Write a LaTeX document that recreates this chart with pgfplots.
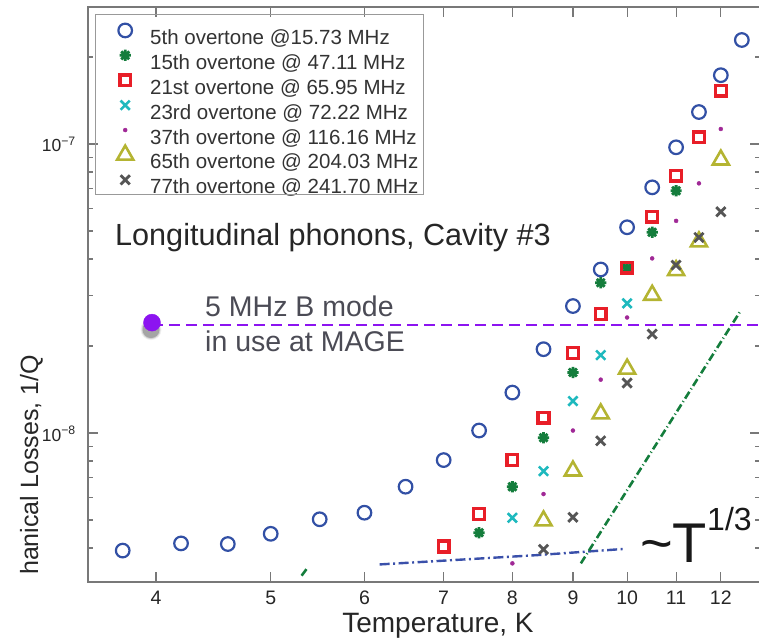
\documentclass[border=0pt]{standalone}
\usepackage{fontspec}
\setmainfont{Liberation Sans}
\usepackage{pgfplots}
\pgfplotsset{compat=1.18}
\definecolor{c5}{RGB}{50,80,165}
\definecolor{c15}{RGB}{20,125,60}
\definecolor{c21}{RGB}{232,30,40}
\definecolor{c23}{RGB}{30,185,190}
\definecolor{c37}{RGB}{160,40,150}
\definecolor{c65}{RGB}{180,180,50}
\definecolor{c77}{RGB}{85,85,85}
\definecolor{cviol}{RGB}{140,20,240}
\definecolor{cann}{RGB}{75,75,85}
\definecolor{caxis}{RGB}{120,120,120}
\makeatletter
\pgfdeclareplotmark{ast8}{%
  \pgfpathmoveto{\pgfqpoint{-\pgfplotmarksize}{0pt}}\pgfpathlineto{\pgfqpoint{\pgfplotmarksize}{0pt}}%
  \pgfpathmoveto{\pgfqpoint{0pt}{-\pgfplotmarksize}}\pgfpathlineto{\pgfqpoint{0pt}{\pgfplotmarksize}}%
  \pgfpathmoveto{\pgfqpoint{-.7071\pgfplotmarksize}{-.7071\pgfplotmarksize}}\pgfpathlineto{\pgfqpoint{.7071\pgfplotmarksize}{.7071\pgfplotmarksize}}%
  \pgfpathmoveto{\pgfqpoint{-.7071\pgfplotmarksize}{.7071\pgfplotmarksize}}\pgfpathlineto{\pgfqpoint{.7071\pgfplotmarksize}{-.7071\pgfplotmarksize}}%
  \pgfusepathqstroke}
\makeatother
\begin{document}
\begin{tikzpicture}
\useasboundingbox (-88pt,-55pt) rectangle (671pt,582pt);
\clip (-88pt,-55pt) rectangle (671pt,582pt);
\begin{axis}[
  at={(0pt,0pt)}, anchor=south west,
  scale only axis, width=672pt, height=575pt,
  xmode=log, ymode=log,
  xmin=3.505, xmax=12.95, ymin=3.051e-9, ymax=2.978e-7,
  xtick={4,5,6,7,8,9,10,11,12},
  xticklabels={4,5,6,7,8,9,10,11,12},
  minor xtick={},
  ytick={1e-8,1e-7},
  yticklabels={10\textsuperscript{−8},10\textsuperscript{−7}},
  minor ytick={4e-9,5e-9,6e-9,7e-9,8e-9,9e-9,2e-8,3e-8,4e-8,5e-8,6e-8,7e-8,8e-8,9e-8,2e-7},
  tick align=inside, xtick pos=both, ytick pos=both,
  major tick length=10pt, minor tick length=5pt,
  axis line style={draw=caxis, line width=1.2pt},
  every tick/.style={draw=caxis, line width=1.2pt},
  xticklabel style={font=\fontsize{19.5}{20}\selectfont, anchor=base, inner sep=0pt, yshift=-22pt, text=black!85},
  yticklabel style={font=\fontsize{17.5}{18}\selectfont, anchor=base east, inner sep=0pt, xshift=-12pt, yshift=-8pt, text=black!85},
  legend style={at={(0.0104,0.9878)}, anchor=north west, draw=none, fill=none,
    inner xsep=4pt, inner ysep=9pt, column sep=16pt, row sep=-2.0pt,
    font=\fontsize{20.5}{22}\selectfont, text=black!80,
    nodes={inner sep=0pt, text height=19.3pt, text depth=5.7pt}},
  legend cell align=left,
  legend image code/.code={\path[draw=none,fill=none] (-26pt,0pt) (9pt,14.4pt); \draw[#1, overlay] plot coordinates {(0pt,7.2pt)};},
]
\addplot[only marks, mark=o, c5, mark options={line width=2.2pt, mark size=6.8pt}] coordinates {
(3.75,3.92e-9)(4.2,4.15e-9)(4.6,4.13e-9)(5,4.48e-9)(5.5,5.03e-9)(6,5.30e-9)(6.5,6.52e-9)(7,8.06e-9)(7.5,1.02e-8)(8,1.38e-8)(8.5,1.95e-8)(9,2.75e-8)(9.5,3.68e-8)(10,5.15e-8)(10.5,7.08e-8)(11,9.74e-8)(11.5,1.29e-7)(12,1.73e-7)(12.5,2.29e-7)};
\addlegendentry{5th overtone @15.73 MHz}
\addplot[only marks, mark=ast8, c15, mark options={line width=2.8pt, mark size=5.6pt}] coordinates {
(7.5,4.52e-9)(8,6.52e-9)(8.5,9.63e-9)(9,1.62e-8)(9.5,3.31e-8)(10,3.72e-8)(10.5,4.95e-8)(11,6.89e-8)};
\addlegendentry{15th overtone @ 47.11 MHz}
\addplot[only marks, mark=square, c21, mark options={line width=3.4pt, mark size=5.4pt}] coordinates {
(7,4.05e-9)(7.5,5.25e-9)(8,8.06e-9)(8.5,1.13e-8)(9,1.89e-8)(9.5,2.58e-8)(10,3.73e-8)(10.5,5.60e-8)(11,7.77e-8)(11.5,1.055e-7)(12,1.53e-7)};
\addlegendentry{21st overtone @ 65.95 MHz}
\addplot[only marks, mark=x, c23, mark options={line width=2.6pt, mark size=6.5pt}] coordinates {
(8,5.09e-9)(8.5,7.38e-9)(9,1.29e-8)(9.5,1.86e-8)(10,2.81e-8)};
\addlegendentry{23rd overtone @ 72.22 MHz}
\addplot[only marks, mark=*, c37, mark options={mark size=2pt}] coordinates {
(8,3.54e-9)(8.5,6.15e-9)(9,1.02e-8)(9.5,1.53e-8)(10,2.51e-8)(10.5,4.02e-8)(11,5.42e-8)(11.5,7.31e-8)(12,1.127e-7)};
\addlegendentry{37th overtone @ 116.16 MHz}
\addplot[only marks, mark=triangle, c65, mark options={line width=2.6pt, mark size=9.3pt}] coordinates {
(8.5,4.97e-9)(9,7.40e-9)(9.5,1.166e-8)(10,1.666e-8)(10.5,3.0e-8)(11,3.65e-8)(11.5,4.59e-8)(12,8.81e-8)};
\addlegendentry{65th overtone @ 204.03 MHz}
\addplot[only marks, mark=x, c77, mark options={line width=2.8pt, mark size=6.5pt}] coordinates {
(8.5,3.96e-9)(9,5.11e-9)(9.5,9.4e-9)(10,1.49e-8)(10.5,2.20e-8)(11,3.81e-8)(11.5,4.75e-8)(12,5.83e-8)};
\addlegendentry{77th overtone @ 241.70 MHz}
% guide lines
\addplot[forget plot, color={rgb,255:red,58;green,80;blue,170}, line width=2.4pt, dash pattern=on 10pt off 3.5pt on 2pt off 3.5pt] coordinates {(6.18,3.51e-9)(8.39,3.78e-9)(9.92,3.97e-9)};
\addplot[forget plot, c15, line width=2.6pt, dash pattern=on 8pt off 3pt on 1pt off 3pt] coordinates {(9.14,3.54e-9)(12.45,2.62e-8)};
\addplot[forget plot, c15, line width=2.6pt] coordinates {(5.31,3.21e-9)(5.36,3.38e-9)};
\addplot[forget plot, cviol, line width=2.2pt, dash pattern=on 11pt off 6pt] coordinates {(3.97,2.36e-8)(14,2.36e-8)};
% dot with shadow
\addplot[forget plot, only marks, mark=*, black, mark options={mark size=10.5pt, opacity=0.06, draw opacity=0}] coordinates {(3.962,2.28e-8)};
\addplot[forget plot, only marks, mark=*, black, mark options={mark size=9.5pt, opacity=0.12, draw opacity=0}] coordinates {(3.962,2.28e-8)};
\addplot[forget plot, only marks, mark=*, black, mark options={mark size=8.5pt, opacity=0.22, draw opacity=0}] coordinates {(3.962,2.28e-8)};
\addplot[forget plot, only marks, mark=*, cviol, mark options={mark size=8.5pt}] coordinates {(3.97,2.41e-8)};
\end{axis}
\draw[gray!80, line width=0.8pt] (7pt,568pt) rectangle (335pt,388pt);
\node[anchor=base west, inner sep=0pt, font=\fontsize{30.6}{30.6}\selectfont, text=black!85] at (27pt,336pt) {Longitudinal phonons, Cavity \#3};
\node[anchor=base west, inner sep=0pt, font=\fontsize{28.5}{28.5}\selectfont, text=cann] at (117pt,265pt) {5 MHz B mode};
\node[anchor=base west, inner sep=0pt, font=\fontsize{28.5}{28.5}\selectfont, text=cann] at (117pt,230pt) {in use at MAGE};
\node[anchor=base, inner sep=0pt, font=\fontsize{28}{28}\selectfont, text=black!85] at (350pt,-50pt) {Temperature, K};
\node[anchor=base west, rotate=90, inner sep=0pt, font=\fontsize{25}{25}\selectfont, text=black!85] at (-50pt,7pt) {hanical Losses, 1/Q};
\node[anchor=base west, inner sep=0pt, font=\fontsize{56}{56}\selectfont, text=black!90] at (552pt,20pt) {\textasciitilde T};
\node[anchor=base west, inner sep=0pt, font=\fontsize{32}{32}\selectfont, text=black!90] at (619pt,52pt) {1/3};
\end{tikzpicture}
\end{document}
